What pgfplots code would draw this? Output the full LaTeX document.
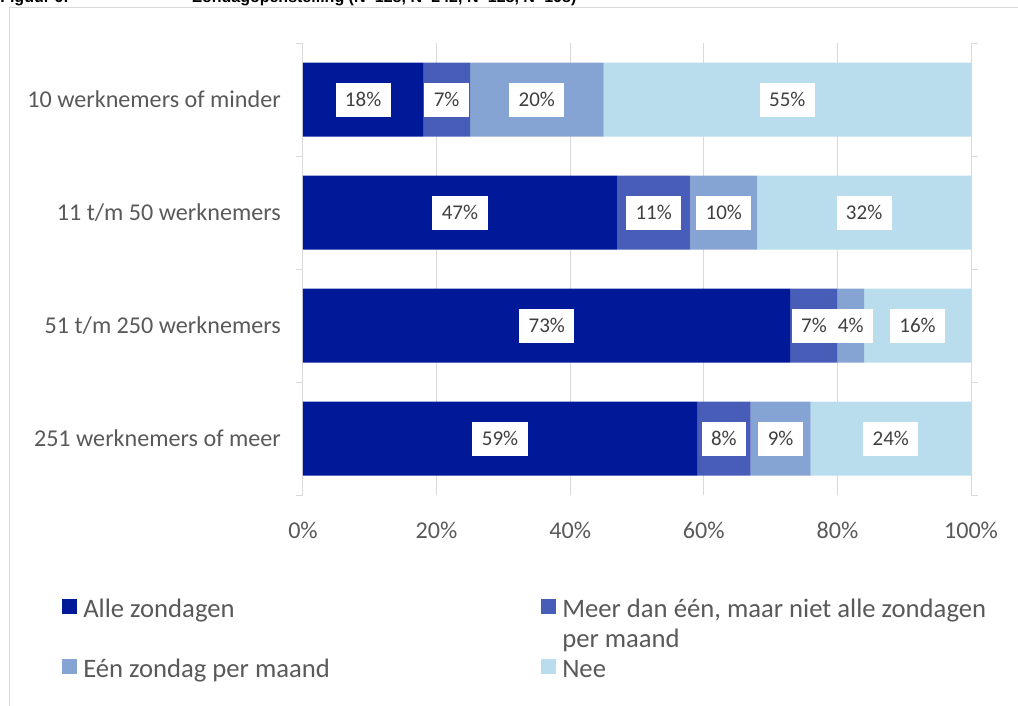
\documentclass[border=0pt]{standalone}
\usepackage{pgfplots}
\pgfplotsset{compat=1.18}
\usepackage{fontspec}
\setmainfont{Carlito}
\newfontfamily\titlefont{Liberation Sans}
\definecolor{c1}{RGB}{0,25,153}
\definecolor{c2}{RGB}{71,93,183}
\definecolor{c3}{RGB}{133,164,211}
\definecolor{c4}{RGB}{185,221,236}
\definecolor{gridc}{RGB}{217,217,217}
\definecolor{txt}{RGB}{89,89,89}
\definecolor{lbl}{RGB}{64,64,64}
\newcommand\legsq[1]{\textcolor{#1}{\rule[2.25pt]{11.25pt}{11.25pt}}\hspace{4.5pt}}
\begin{document}
\begin{tikzpicture}
\begin{scope}[x=0.75pt,y=-0.75pt]
\useasboundingbox (0,0) rectangle (1018,706);
\draw[gridc, line width=1.1pt] (9.5,720) -- (9.5,7.5) -- (1030,7.5);
\node[anchor=base west, inner sep=0pt, font=\titlefont\bfseries\fontsize{12pt}{14pt}\selectfont] at (0,2.5) {Figuur 6:};
\node[anchor=base west, inner sep=0pt, font=\titlefont\bfseries\fontsize{12pt}{14pt}\selectfont] at (192,2.5) {Zondagopenstelling (N=128, N=242, N=128, N=198)};
\end{scope}
\begin{axis}[
  at={(227.25pt,-371.25pt)}, anchor=south west,
  scale only axis, width=501pt, height=339pt,
  xbar stacked, bar width=55.5pt,
  xmin=0, xmax=100, ymin=-0.5, ymax=3.5,
  xtick={0,20,40,60,80,100},
  xticklabels={0\%,20\%,40\%,60\%,80\%,100\%},
  ytick={0,1,2,3},
  yticklabels={251 werknemers of meer,51 t/m 250 werknemers,11 t/m 50 werknemers,10 werknemers of minder},
  xmajorgrids, grid style={gridc, line width=0.75pt},
  axis line style={draw=none},
  major tick length=0pt,
  extra y ticks={-0.5,0.5,1.5,2.5,3.5},
  extra y tick labels={},
  extra y tick style={major tick length=5.25pt, tick align=outside, tick style={gridc, line width=0.75pt}},
  tick label style={font=\fontsize{18.1pt}{21pt}\selectfont, text=txt},
  yticklabel style={anchor=east, inner xsep=0pt, xshift=-16.5pt},
  xticklabel style={anchor=base, yshift=-32.25pt},
  point meta=rawx,
  nodes near coords={\pgfmathprintnumber[assume math mode=true]{\pgfplotspointmeta}\%},
  every node near coord/.append style={fill=white, text=lbl, font=\fontsize{15.75pt}{18pt}\selectfont, anchor=center, inner xsep=7.1pt, inner ysep=0pt, minimum height=25.5pt},
  legend image code/.code={},
  legend style={at={(axis description cs:-0.36078,-0.22566)}, anchor=north west, draw=none, fill=none, inner sep=0pt, legend columns=2, column sep=0pt, row sep=25pt, nodes={inner sep=0pt, text height=15pt, text depth=5pt, text=txt, font=\fontsize{20pt}{22.5pt}\selectfont}, cells={anchor=base west}},
]
\addplot[fill=c1, draw=none] coordinates {(59,0) (73,1) (47,2) (18,3)};
\addlegendentry{\makebox[359.25pt][l]{\legsq{c1}Alle zondagen}}
\addplot[fill=c2, draw=none] coordinates {(8,0) (7,1) (11,2) (7,3)};
\addlegendentry{\legsq{c2}\parbox[t]{330pt}{Meer dan één, maar niet alle zondagen\\per maand}}
\addplot[fill=c3, draw=none] coordinates {(9,0) (4,1) (10,2) (20,3)};
\addlegendentry{\makebox[359.25pt][l]{\legsq{c3}Eén zondag per maand}}
\addplot[fill=c4, draw=none] coordinates {(24,0) (16,1) (32,2) (55,3)};
\addlegendentry{\legsq{c4}Nee}
\end{axis}
\end{tikzpicture}
\end{document}
